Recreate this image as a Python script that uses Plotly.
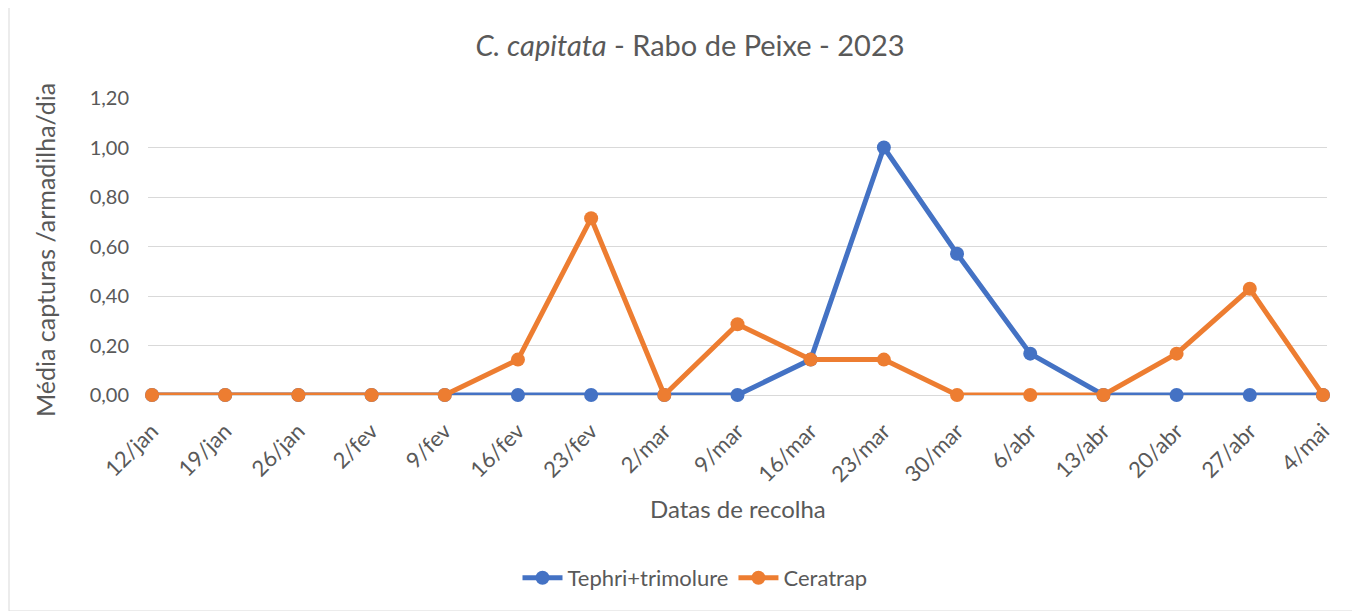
import plotly.graph_objects as go

dates = ["12/jan", "19/jan", "26/jan", "2/fev", "9/fev", "16/fev", "23/fev", "2/mar", "9/mar",
         "16/mar", "23/mar", "30/mar", "6/abr", "13/abr", "20/abr", "27/abr", "4/mai"]
tephri = [0, 0, 0, 0, 0, 0, 0, 0, 0, 0.143, 1.0, 0.571, 0.167, 0, 0, 0, 0]
ceratrap = [0, 0, 0, 0, 0, 0.143, 0.714, 0, 0.286, 0.143, 0.143, 0, 0, 0, 0.167, 0.429, 0]
yticks = [0, 0.2, 0.4, 0.6, 0.8, 1.0, 1.2]

FONT = "Lato, Calibri, Carlito, sans-serif"
GREY = "#595959"

fig = go.Figure()
fig.add_trace(go.Scatter(x=dates, y=tephri, name="Tephri+trimolure", mode="lines+markers",
                         line=dict(color="#4472C4", width=5), marker=dict(size=14, color="#4472C4"),
                         cliponaxis=False))
fig.add_trace(go.Scatter(x=dates, y=ceratrap, name="Ceratrap", mode="lines+markers",
                         line=dict(color="#ED7D31", width=5), marker=dict(size=14, color="#ED7D31"),
                         cliponaxis=False))

OFF = 8  # page body margin in the browser
W, H = 1360 - OFF, 611 - OFF
# reference pixel geometry (screen coordinates)
PL, PR, PT, PB = 148, 1327, 98, 395
L, R, T, B = PL - OFF, (W + OFF) - PR, PT - OFF, (H + OFF) - PB
pw, ph = PR - PL, PB - PT

def px_x(p):
    return (p - PL) / pw

def px_y(p):
    return (PB - p) / ph

fig.update_layout(
    width=W, height=H,
    margin=dict(l=L, r=R, t=T, b=B),
    paper_bgcolor="white", plot_bgcolor="white",
    separators=",.",
    font=dict(family=FONT, color=GREY, size=20),
    title=dict(text="<i>C. capitata</i> - Rabo de Peixe - 2023", x=(690 - OFF) / W, xanchor="center",
               xref="container", yref="container", y=1 - (46 - OFF) / H, yanchor="middle",
               font=dict(size=29, color=GREY, family=FONT)),
    xaxis=dict(type="category", range=[-0.055, 16.055], tickangle=-45, showgrid=False,
               showline=False, ticks="", tickfont=dict(size=22, color=GREY), zeroline=False,
               ticklabelstandoff=18),
    yaxis=dict(range=[0, 1.2], tickvals=yticks, tickformat=".2f", showgrid=True,
               gridcolor="#d9d9d9", gridwidth=1.3, zeroline=True, zerolinecolor="#d9d9d9",
               zerolinewidth=1.3, ticks="", tickfont=dict(size=20, color=GREY), ticklabelstandoff=18),
    showlegend=True,
    legend=dict(orientation="h", x=px_x(695), xanchor="center", y=px_y(578), yanchor="middle",
                font=dict(size=22, color=GREY), itemwidth=40, traceorder="normal"),
    annotations=[
        dict(text="Datas de recolha", x=px_x(738), y=px_y(508), xref="paper", yref="paper",
             showarrow=False, font=dict(size=24, color=GREY), xanchor="center", yanchor="middle"),
        dict(text="Média capturas /armadilha/dia", x=px_x(45), y=px_y(250), xref="paper", yref="paper",
             showarrow=False, textangle=-90, font=dict(size=25, color=GREY),
             xanchor="center", yanchor="middle"),
    ],
    shapes=[dict(type="rect", xref="paper", yref="paper", x0=px_x(9), x1=px_x(1357),
                 y0=px_y(611), y1=px_y(5), line=dict(color="#d9d9d9", width=1))],
)

fig.write_html("out.html")
